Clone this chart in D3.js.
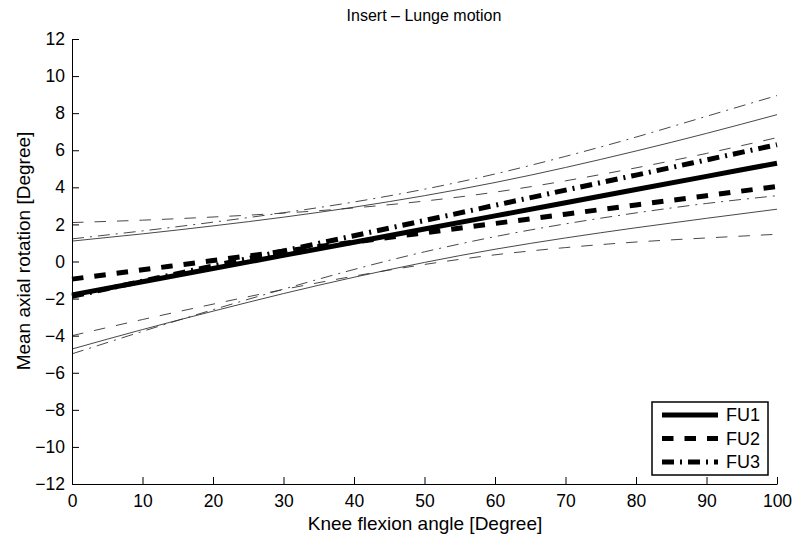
<!DOCTYPE html>
<html lang="en">
<head>
<meta charset="utf-8">
<script src="https://cdn.jsdelivr.net/npm/d3@7"></script>
<style>
  body { margin: 0; background: #fff; }
  text { font-family: "Liberation Sans", Arial, Helvetica, sans-serif; fill: #000; }
</style>
</head>
<body>
<svg width="795" height="539"></svg>
<script>
// knee flexion angle samples
var angles = [0, 10, 20, 30, 40, 50, 60, 70, 80, 90, 100];

// FU1 regression + band
var fu1Mean  = [-1.80, -1.09, -0.38, 0.33, 1.04, 1.75, 2.46, 3.17, 3.88, 4.59, 5.30];
var fu1Upper = [1.10, 1.49, 1.92, 2.39, 2.93, 3.55, 4.26, 5.07, 5.96, 6.91, 7.92];
var fu1Lower = [-4.72, -3.67, -2.68, -1.73, -0.85, -0.05, 0.66, 1.27, 1.82, 2.33, 2.82];

// FU2
var fu2Mean  = [-0.95, -0.45, 0.05, 0.55, 1.05, 1.55, 2.05, 2.55, 3.05, 3.55, 4.05];
var fu2Upper = [2.10, 2.23, 2.40, 2.61, 2.89, 3.26, 3.74, 4.35, 5.05, 5.83, 6.68];
var fu2Lower = [-4.00, -3.13, -2.30, -1.51, -0.79, -0.16, 0.36, 0.75, 1.05, 1.27, 1.47];

// FU3
var fu3Mean  = [-1.88, -1.06, -0.24, 0.57, 1.39, 2.21, 3.03, 3.85, 4.66, 5.48, 6.30];
var fu3Upper = [1.22, 1.65, 2.12, 2.63, 3.21, 3.90, 4.72, 5.67, 6.71, 7.83, 8.95];
var fu3Lower = [-4.98, -3.77, -2.60, -1.49, -0.43, 0.52, 1.34, 2.03, 2.62, 3.13, 3.55];

var xTicks = [0, 10, 20, 30, 40, 50, 60, 70, 80, 90, 100];
var yTicks = [-12, -10, -8, -6, -4, -2, 0, 2, 4, 6, 8, 10, 12];
var legendNames = ["FU1", "FU2", "FU3"];

var svg = d3.select("svg");
var x = d3.scaleLinear().domain([0, 100]).range([72, 777]);
var y = d3.scaleLinear().domain([-12, 12]).range([484, 39]);

var dashes = { solid: null, dash: "11.5,11", dashdot: "12,6,2,6" };

var line = d3.line()
    .x(function(d) { return x(d[0]); })
    .y(function(d) { return y(d[1]); })
    .curve(d3.curveNatural);

function pts(vals) {
    return angles.map(function(a, i) { return [a, vals[i]]; });
}

var series = [
    { vals: fu1Upper, w: 0.9, dash: dashes.solid },
    { vals: fu1Lower, w: 0.9, dash: dashes.solid },
    { vals: fu2Upper, w: 0.9, dash: dashes.dash },
    { vals: fu2Lower, w: 0.9, dash: dashes.dash },
    { vals: fu3Upper, w: 0.9, dash: dashes.dashdot },
    { vals: fu3Lower, w: 0.9, dash: dashes.dashdot },
    { vals: fu1Mean, w: 5, dash: dashes.solid },
    { vals: fu2Mean, w: 5, dash: dashes.dash },
    { vals: fu3Mean, w: 5, dash: dashes.dashdot }
];

svg.append("g").selectAll("path")
    .data(series)
    .enter().append("path")
    .attr("d", function(d) { return line(pts(d.vals)); })
    .attr("fill", "none")
    .attr("stroke", function(d) { return d.w < 2 ? "#333" : "#000"; })
    .attr("stroke-width", function(d) { return d.w; })
    .attr("stroke-dasharray", function(d) { return d.dash; });

// axes, ticks pointing inward like matlab
var xAxis = svg.append("g")
    .attr("transform", "translate(0," + y(-12) + ")")
    .call(d3.axisBottom(x).tickValues(xTicks).tickSizeInner(-7).tickSizeOuter(0).tickPadding(11));
var yAxis = svg.append("g")
    .attr("transform", "translate(" + x(0) + ",0)")
    .call(d3.axisLeft(y).tickValues(yTicks).tickSizeInner(-7).tickSizeOuter(0).tickPadding(7)
        .tickFormat(function(d) { return d < 0 ? "\u2212" + Math.abs(d) : d; }));

[xAxis, yAxis].forEach(function(g) {
    g.select(".domain").attr("stroke", "#000").attr("stroke-width", 1);
    g.selectAll(".tick line").attr("stroke", "#000");
    g.selectAll(".tick text").attr("font-size", 17.5).attr("font-family", "Liberation Sans, Arial, sans-serif");
});

svg.append("text")
    .attr("x", 424).attr("y", 21)
    .attr("text-anchor", "middle")
    .attr("font-size", 16)
    .text("Insert \u2013 Lunge motion");

svg.append("text")
    .attr("x", 425).attr("y", 530)
    .attr("text-anchor", "middle")
    .attr("font-size", 19)
    .text("Knee flexion angle [Degree]");

svg.append("text")
    .attr("transform", "translate(30,251) rotate(-90)")
    .attr("text-anchor", "middle")
    .attr("font-size", 19)
    .text("Mean axial rotation [Degree]");

// legend
var lg = svg.append("g");
lg.append("rect")
    .attr("x", 652).attr("y", 402).attr("width", 116).attr("height", 73)
    .attr("fill", "#fff").attr("stroke", "#000").attr("stroke-width", 1.5);
var legDash = [dashes.solid, dashes.dash, dashes.dashdot];
var row = lg.selectAll("g.row").data(legendNames).enter().append("g")
    .attr("transform", function(d, i) { return "translate(0," + (415 + i * 23.5) + ")"; });
row.append("line")
    .attr("x1", 662).attr("x2", 718)
    .attr("stroke", "#000").attr("stroke-width", 5)
    .attr("stroke-dasharray", function(d, i) { return legDash[i]; });
row.append("text")
    .attr("x", 726).attr("dy", "0.35em")
    .attr("font-size", 18)
    .text(function(d) { return d; });
</script>
</body>
</html>
